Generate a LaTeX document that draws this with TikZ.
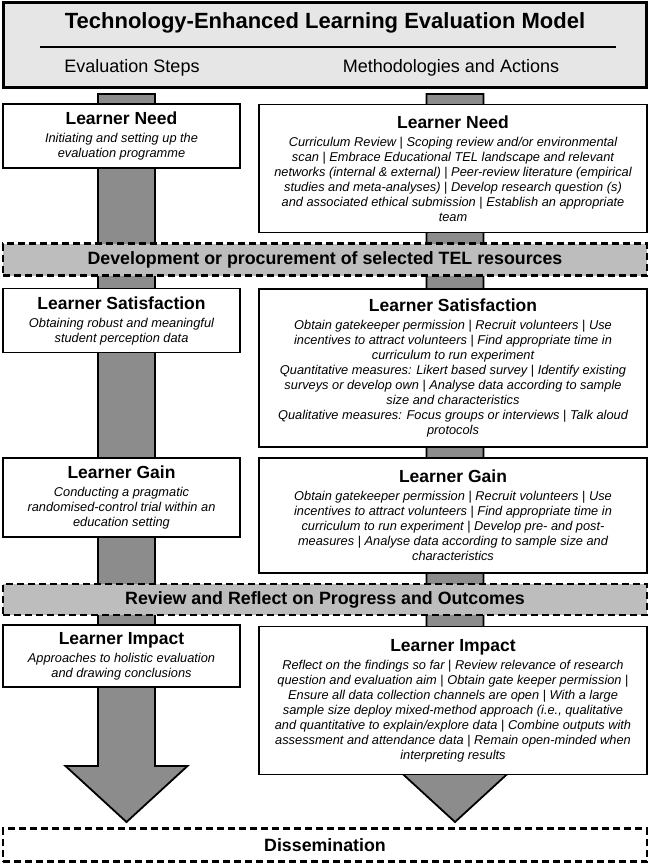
\documentclass[tikz,border=0pt]{standalone}
\usepackage{fontspec}
\setmainfont{Liberation Sans}
\usetikzlibrary{calc}
\definecolor{titlefill}{HTML}{E6E6E6}
\definecolor{bandfill}{HTML}{BDBDBD}
\definecolor{arrowfill}{HTML}{8C8C8C}
\newcommand\vsep{{\upshape|}}
\newcommand\hd[1]{{\upshape\bfseries\fontsize{17.5}{19}\selectfont #1}\\[3pt]}
\begin{document}
\begin{tikzpicture}[x=1pt,y=-1pt,
  box/.style={draw, line width=1.8pt, fill=white, align=center, inner sep=0pt,
    font=\fontsize{12.8}{15}\selectfont\itshape},
  band/.style={draw, line width=2.2pt, dash pattern=on 7pt off 4pt, fill=bandfill,
    inner sep=0pt, font=\bfseries\fontsize{17.8}{19}\selectfont},
  titlebox/.style={draw, line width=3pt, fill=titlefill, inner sep=0pt},
  arrowshape/.style={draw, line width=1.8pt, fill=arrowfill, line join=miter}]
\useasboundingbox (0,0) rectangle (650,864);

% title block
\node[titlebox, minimum width=643pt, minimum height=85pt] (title) at (325,45) {};
\node[font=\bfseries\fontsize{22}{24}\selectfont] (ttl) at (325,23) {Technology-Enhanced Learning Evaluation Model};
\coordinate (rl) at (40,47);
\coordinate (rr) at (616,47);
\draw[line width=1.2pt] (rl) -- (rr);
\node[font=\fontsize{18}{20}\selectfont] (steps) at (132,68) {Evaluation Steps};
\node[font=\fontsize{18}{20}\selectfont] (meth) at (451,68) {Methodologies and Actions};

% big arrows
\coordinate (la) at (126.5,94);
\coordinate (lb) at (126.5,822);
\coordinate (ra) at (455,94);
\coordinate (rb) at (455,822);
\foreach \t/\b in {la/lb, ra/rb}{
  \draw[arrowshape] ($(\t)+(-28.5,0)$) -- ($(\t)+(28.5,0)$) -- ($(\b)+(28.5,-56)$)
    -- ($(\b)+(61,-56)$) -- (\b) -- ($(\b)+(-61,-56)$) -- ($(\b)+(-28.5,-56)$) -- cycle;
}

% left column
\node[box, minimum width=237pt, minimum height=64pt] (lneed) at (121.5,136)
  {\hd{Learner Need}Initiating and setting up the\\evaluation programme};
\node[box, minimum width=237pt, minimum height=64pt] (lsat) at (121.5,320.5)
  {\hd{Learner Satisfaction}Obtaining robust and meaningful\\student perception data};
\node[box, minimum width=237pt, minimum height=79pt] (lgain) at (121.5,497.5)
  {\hd{Learner Gain}Conducting a pragmatic\\randomised-control trial within an\\education setting};
\node[box, minimum width=237pt, minimum height=62pt] (limp) at (121.5,656)
  {\hd{Learner Impact}Approaches to holistic evaluation\\and drawing conclusions};

% right column
\node[box, minimum width=388pt, minimum height=128pt] (rneed) at (453,168.5)
  {\hd{Learner Need}Curriculum Review \vsep{} Scoping review and/or environmental\\
   scan \vsep{} Embrace Educational TEL landscape and relevant\\
   networks (internal \& external) \vsep{} Peer-review literature (empirical\\
   studies and meta-analyses) \vsep{} Develop research question (s)\\
   and associated ethical submission \vsep{} Establish an appropriate\\
   team};
\node[box, minimum width=388pt, minimum height=158pt] (rsat) at (453,368)
  {\hd{Learner Satisfaction}Obtain gatekeeper permission \vsep{} Recruit volunteers \vsep{} Use\\
   incentives to attract volunteers \vsep{} Find appropriate time in\\
   curriculum to run experiment\\
   Quantitative measures: Likert based survey \vsep{} Identify existing\\
   surveys or develop own \vsep{} Analyse data according to sample\\
   size and characteristics\\
   Qualitative measures: Focus groups or interviews \vsep{} Talk aloud\\
   protocols};
\node[box, minimum width=388pt, minimum height=115pt] (rgain) at (453,515.5)
  {\hd{Learner Gain}Obtain gatekeeper permission \vsep{} Recruit volunteers \vsep{} Use\\
   incentives to attract volunteers \vsep{} Find appropriate time in\\
   curriculum to run experiment \vsep{} Develop pre- and post-\\
   measures \vsep{} Analyse data according to sample size and\\
   characteristics};
\node[box, minimum width=388pt, minimum height=148pt] (rimp) at (453,700.5)
  {\hd{Learner Impact}Reflect on the findings so far \vsep{} Review relevance of research\\
   question and evaluation aim \vsep{} Obtain gate keeper permission \vsep\\
   Ensure all data collection channels are open \vsep{} With a large\\
   sample size deploy mixed-method approach (i.e., qualitative\\
   and quantitative to explain/explore data \vsep{} Combine outputs with\\
   assessment and attendance data \vsep{} Remain open-minded when\\
   interpreting results};

% bands
\node[band, minimum width=644pt, minimum height=32pt] (band1) at (325,259.5)
  {Development or procurement of selected TEL resources};
\node[band, minimum width=644pt, minimum height=31pt] (band2) at (325,599.5)
  {Review and Reflect on Progress and Outcomes};
\node[band, fill=white, minimum width=644pt, minimum height=33pt] (dissem) at (325,845)
  {Dissemination};
\end{tikzpicture}
\end{document}
